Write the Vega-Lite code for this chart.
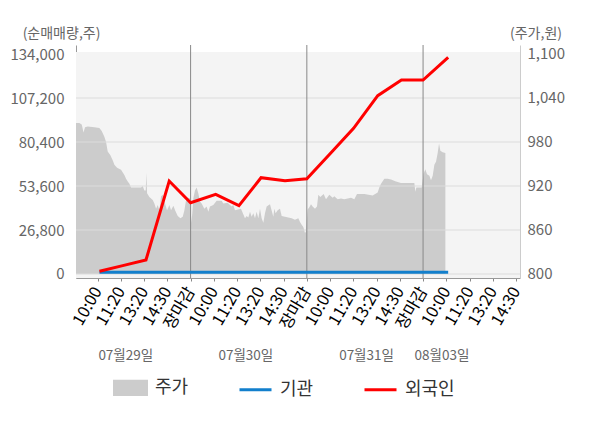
{
  "$schema": "https://vega.github.io/schema/vega-lite/v6.json",
  "width": 444,
  "height": 233,
  "autosize": "none",
  "padding": {"left": 76, "top": 45, "right": 80, "bottom": 150},
  "background": "white",
  "config": {
    "font": "Noto Sans CJK KR",
    "view": {"stroke": null},
    "axis": {"labelFont": "Noto Sans CJK KR", "titleFont": "Noto Sans CJK KR"},
    "legend": {"labelFont": "Noto Sans CJK KR"}
  },
  "datasets": {
    "price": [
      {"t": 0.07, "p": 1006}, {"t": 0.215, "p": 1006}, {"t": 0.316, "p": 1004}, {"t": 0.36, "p": 998}, {"t": 0.387, "p": 993}, {"t": 0.42, "p": 996}, {"t": 0.459, "p": 1000}, {"t": 0.574, "p": 1001}, {"t": 0.86, "p": 1000}, {"t": 1.076, "p": 999}, {"t": 1.176, "p": 995}, {"t": 1.29, "p": 987}, {"t": 1.363, "p": 980}, {"t": 1.434, "p": 967}, {"t": 1.549, "p": 962}, {"t": 1.649, "p": 955}, {"t": 1.721, "p": 949}, {"t": 1.836, "p": 945}, {"t": 2.008, "p": 942}, {"t": 2.151, "p": 935}, {"t": 2.223, "p": 930}, {"t": 2.295, "p": 926}, {"t": 2.367, "p": 923}, {"t": 2.438, "p": 918}, {"t": 2.869, "p": 918}, {"t": 2.94, "p": 920}, {"t": 3.012, "p": 914}, {"t": 3.069, "p": 914}, {"t": 3.098, "p": 938}, {"t": 3.127, "p": 910}, {"t": 3.227, "p": 905}, {"t": 3.371, "p": 901}, {"t": 3.442, "p": 896}, {"t": 3.514, "p": 889}, {"t": 3.586, "p": 894}, {"t": 3.657, "p": 887}, {"t": 3.729, "p": 906}, {"t": 3.801, "p": 908}, {"t": 3.873, "p": 899}, {"t": 3.987, "p": 887}, {"t": 4.088, "p": 894}, {"t": 4.159, "p": 887}, {"t": 4.26, "p": 893}, {"t": 4.332, "p": 887}, {"t": 4.446, "p": 879}, {"t": 4.561, "p": 876}, {"t": 4.661, "p": 878}, {"t": 4.733, "p": 887}, {"t": 4.805, "p": 901}, {"t": 4.877, "p": 904}, {"t": 4.991, "p": 903}, {"t": 5.03, "p": 870}, {"t": 5.073, "p": 883}, {"t": 5.116, "p": 903}, {"t": 5.188, "p": 914}, {"t": 5.26, "p": 918}, {"t": 5.331, "p": 910}, {"t": 5.403, "p": 899}, {"t": 5.475, "p": 896}, {"t": 5.59, "p": 889}, {"t": 5.69, "p": 892}, {"t": 5.762, "p": 885}, {"t": 5.833, "p": 892}, {"t": 5.977, "p": 894}, {"t": 6.12, "p": 900}, {"t": 6.335, "p": 900}, {"t": 6.407, "p": 896}, {"t": 6.593, "p": 897}, {"t": 6.766, "p": 892}, {"t": 6.837, "p": 894}, {"t": 6.909, "p": 887}, {"t": 7.167, "p": 889}, {"t": 7.339, "p": 876}, {"t": 7.411, "p": 879}, {"t": 7.483, "p": 877}, {"t": 7.555, "p": 885}, {"t": 7.626, "p": 878}, {"t": 7.698, "p": 883}, {"t": 7.77, "p": 876}, {"t": 7.841, "p": 885}, {"t": 7.913, "p": 876}, {"t": 7.985, "p": 889}, {"t": 8.056, "p": 876}, {"t": 8.128, "p": 870}, {"t": 8.2, "p": 883}, {"t": 8.272, "p": 892}, {"t": 8.415, "p": 895}, {"t": 8.558, "p": 878}, {"t": 8.601, "p": 889}, {"t": 8.659, "p": 883}, {"t": 8.745, "p": 887}, {"t": 8.845, "p": 889}, {"t": 8.917, "p": 879}, {"t": 9.06, "p": 878}, {"t": 9.204, "p": 877}, {"t": 9.347, "p": 876}, {"t": 9.491, "p": 874}, {"t": 9.634, "p": 876}, {"t": 9.706, "p": 871}, {"t": 9.778, "p": 867}, {"t": 9.849, "p": 864}, {"t": 9.921, "p": 856}, {"t": 9.964, "p": 858}, {"t": 10.035, "p": 888}, {"t": 10.107, "p": 891}, {"t": 10.179, "p": 895}, {"t": 10.25, "p": 892}, {"t": 10.351, "p": 889}, {"t": 10.437, "p": 892}, {"t": 10.494, "p": 908}, {"t": 10.58, "p": 905}, {"t": 10.724, "p": 909}, {"t": 10.824, "p": 902}, {"t": 10.968, "p": 908}, {"t": 11.111, "p": 904}, {"t": 11.183, "p": 906}, {"t": 11.326, "p": 902}, {"t": 11.47, "p": 903}, {"t": 11.613, "p": 902}, {"t": 11.757, "p": 903}, {"t": 11.9, "p": 904}, {"t": 12.043, "p": 902}, {"t": 12.158, "p": 909}, {"t": 12.474, "p": 909}, {"t": 12.832, "p": 907}, {"t": 13.047, "p": 911}, {"t": 13.119, "p": 918}, {"t": 13.191, "p": 923}, {"t": 13.334, "p": 930}, {"t": 13.478, "p": 930}, {"t": 13.621, "p": 929}, {"t": 13.836, "p": 926}, {"t": 14.051, "p": 924}, {"t": 14.338, "p": 924}, {"t": 14.625, "p": 924}, {"t": 14.668, "p": 912}, {"t": 14.711, "p": 918}, {"t": 14.941, "p": 918}, {"t": 15.027, "p": 937}, {"t": 15.098, "p": 943}, {"t": 15.17, "p": 936}, {"t": 15.271, "p": 934}, {"t": 15.342, "p": 928}, {"t": 15.414, "p": 934}, {"t": 15.486, "p": 949}, {"t": 15.557, "p": 953}, {"t": 15.629, "p": 965}, {"t": 15.687, "p": 978}, {"t": 15.744, "p": 968}, {"t": 15.844, "p": 966}, {"t": 15.96, "p": 965}
    ],
    "foreign": [
      {"t": 1.08, "v": 1640}, {"t": 2.08, "v": 5100}, {"t": 3.08, "v": 8530}, {"t": 4.08, "v": 56640}, {"t": 5.0, "v": 43400}, {"t": 6.08, "v": 48540}, {"t": 7.08, "v": 41600}, {"t": 8.03, "v": 58650}, {"t": 9.06, "v": 56820}, {"t": 10.0, "v": 58000}, {"t": 11.05, "v": 74000}, {"t": 12.01, "v": 88740}, {"t": 13.05, "v": 108600}, {"t": 14.07, "v": 118160}, {"t": 15.0, "v": 118160}, {"t": 16.08, "v": 132000}
    ],
    "inst": [
      {"t": 1.08, "v": 1000}, {"t": 2.08, "v": 1000}, {"t": 3.08, "v": 1000}, {"t": 4.08, "v": 1000}, {"t": 5.0, "v": 1000}, {"t": 6.08, "v": 1000}, {"t": 7.08, "v": 1000}, {"t": 8.03, "v": 1000}, {"t": 9.06, "v": 1000}, {"t": 10.0, "v": 1000}, {"t": 11.05, "v": 1000}, {"t": 12.01, "v": 1000}, {"t": 13.05, "v": 1000}, {"t": 14.07, "v": 1000}, {"t": 15.0, "v": 1000}, {"t": 16.08, "v": 1000}
    ],
    "grid": [{"v": 0}, {"v": 26800}, {"v": 53600}, {"v": 80400}, {"v": 107200}],
    "days": [{"t": 5}, {"t": 10}, {"t": 15}]
  },
  "layer": [
    {
      "data": {"values": [{"region": "plot"}]},
      "mark": {"type": "rect", "fill": "#f4f4f4"},
      "encoding": {
        "y": {"datum": 135218, "type": "quantitative", "scale": {"domain": [-2436.4, 139482], "nice": false, "zero": false}, "axis": null},
        "y2": {"datum": -2436.4}
      }
    },
    {
      "data": {"name": "price"},
      "mark": {"type": "area"},
      "encoding": {
        "x": {"field": "t", "type": "quantitative", "scale": {"domain": [0.07, 19.17], "nice": false, "zero": false}, "axis": null},
        "y": {"field": "p", "type": "quantitative", "scale": {"domain": [794.545, 1112.27], "nice": false, "zero": false},
          "axis": {"orient": "right", "values": [800, 860, 920, 980, 1040, 1100], "format": ",.0f", "ticks": false, "grid": false, "domainColor": "#cccccc", "labelColor": "#666666", "labelFontSize": 15, "labelPadding": 7, "title": "(주가,원)", "titleAngle": 0, "titleX": 15.5, "titleY": -11.7, "titleAlign": "center", "titleBaseline": "middle", "titleFontSize": 14, "titleFontWeight": "normal", "titleColor": "#666666"}},
        "y2": {"datum": 800},
        "color": {"datum": "주가", "type": "nominal",
          "scale": {"domain": ["주가", "기관", "외국인"], "range": ["#cccccc", "#127fcc", "#ff0000"]},
          "legend": {"orient": "none", "legendX": 37, "legendY": 325, "direction": "horizontal", "title": null, "padding": 0, "symbolSize": 1024, "labelFontSize": 18, "labelColor": "#333333", "labelOffset": 7, "columnPadding": 44,
            "encode": {"symbols": {"update": {
              "shape": {"signal": "datum.value === '주가' ? 'M-1,-0.42H1V0.42H-1Z' : 'stroke'"},
              "fill": {"signal": "datum.value === '주가' ? '#cccccc' : 'transparent'"},
              "stroke": {"signal": "datum.value === '주가' ? 'transparent' : (datum.value === '기관' ? '#127fcc' : '#ff0000')"},
              "strokeWidth": {"value": 3},
              "opacity": {"value": 1}
            }}}}}
      }
    },
    {
      "data": {"name": "grid"},
      "mark": {"type": "rule", "color": "#dcdcdc", "strokeWidth": 1},
      "encoding": {
        "y": {"field": "v", "type": "quantitative", "scale": {"domain": [-2436.4, 139482], "nice": false, "zero": false}, "axis": null}
      }
    },
    {
      "data": {"name": "days"},
      "mark": {"type": "rule", "color": "#888888", "strokeWidth": 1},
      "encoding": {
        "x": {"field": "t", "type": "quantitative", "axis": null}
      }
    },
    {
      "data": {"name": "inst"},
      "mark": {"type": "line", "strokeWidth": 3},
      "encoding": {
        "x": {"field": "t", "type": "quantitative",
          "axis": {"orient": "bottom", "values": [2.19, 7.354, 12.547, 15.79], "labelExpr": "datum.value < 5 ? '07월29일' : datum.value < 10 ? '07월30일' : datum.value < 15 ? '07월31일' : '08월03일'", "ticks": false, "domain": false, "grid": false, "labelAngle": 0, "labelAlign": "center", "labelBaseline": "middle", "labelPadding": 77, "labelFontSize": 13.5, "labelColor": "#666666", "labelFlush": false, "labelOverlap": false, "labelBound": false, "title": null}},
        "y": {"field": "v", "type": "quantitative", "scale": {"domain": [-2436.4, 139482], "nice": false, "zero": false}, "axis": null},
        "color": {"datum": "기관", "type": "nominal"}
      }
    },
    {
      "data": {"name": "foreign"},
      "mark": {"type": "line", "strokeWidth": 3},
      "encoding": {
        "x": {"field": "t", "type": "quantitative",
          "axis": {"orient": "bottom", "values": [1, 2, 3, 4, 5, 6, 7, 8, 9, 10, 11, 12, 13, 14, 15, 16, 17, 18, 19],
            "labelExpr": "['장마감','10:00','11:20','13:20','14:30'][datum.value % 5]",
            "labelAngle": -60, "labelFontSize": 16.5, "labelPadding": 7, "tickSize": 3, "tickColor": "#888888", "domainColor": "#999999", "grid": false, "labelFlush": false, "labelOverlap": false, "labelBound": false, "title": null,
            "encode": {
              "labels": {"update": {"fill": {"signal": "datum.value % 5 == 0 ? '#ff0000' : (datum.value == 16 ? '#222222' : '#666666')"}}},
              "ticks": {"update": {"strokeOpacity": {"signal": "datum.value % 5 == 0 ? 1 : 0"}}}
            }}},
        "y": {"field": "v", "type": "quantitative", "scale": {"domain": [-2436.4, 139482], "nice": false, "zero": false},
          "axis": {"orient": "left", "values": [0, 26800, 53600, 80400, 107200, 134000], "format": ",.0f", "ticks": false, "grid": false, "domainColor": "#999999", "labelColor": "#666666", "labelFontSize": 15, "labelPadding": 12, "title": "(순매매량,주)", "titleAngle": 0, "titleX": -15, "titleY": -11.7, "titleAlign": "center", "titleBaseline": "middle", "titleFontSize": 14, "titleFontWeight": "normal", "titleColor": "#666666"}},
        "color": {"datum": "외국인", "type": "nominal"}
      }
    }
  ],
  "resolve": {"scale": {"y": "independent"}, "axis": {"x": "independent"}}
}
